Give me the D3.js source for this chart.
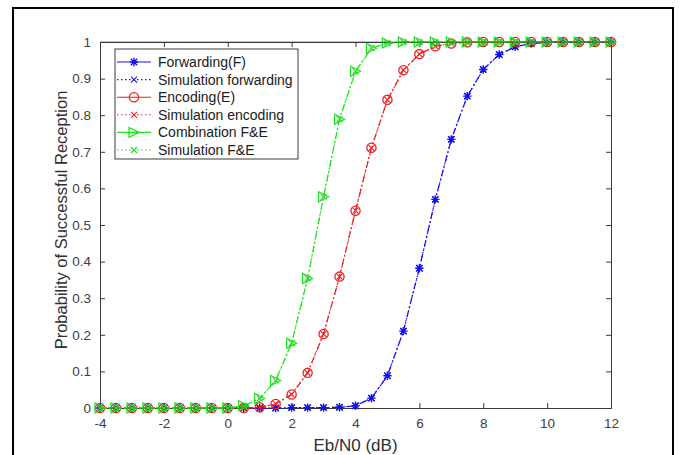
<!DOCTYPE html>
<html>
<head>
<meta charset="utf-8">
<script src="https://cdn.jsdelivr.net/npm/d3@7"></script>
<style>
  html, body { margin: 0; padding: 0; background: #fff; }
  svg { display: block; }
  text { font-family: "Liberation Sans", Arial, Helvetica, sans-serif; }
</style>
</head>
<body>
<svg id="chart" width="680" height="455"></svg>
<script>
// ---- data ----
const ebn0 = [-4,-3.5,-3,-2.5,-2,-1.5,-1,-0.5,0,0.5,1,1.5,2,2.5,3,3.5,4,4.5,5,5.5,6,6.5,7,7.5,8,8.5,9,9.5,10,10.5,11,11.5,12];
const forwarding     = [0,0,0,0,0,0,0,0,0,0,0,0,0.001,0.001,0.001,0.002,0.006,0.027,0.088,0.21,0.382,0.57,0.734,0.852,0.925,0.966,0.987,0.996,0.999,1,1,1,1];
const simForwarding  = [0,0,0,0,0,0,0,0,0,0,0,0,0.001,0.001,0.001,0.002,0.006,0.027,0.088,0.21,0.382,0.57,0.734,0.852,0.925,0.966,0.987,0.996,0.999,1,1,1,1];
const encoding       = [0,0,0,0,0,0,0,0,0,0,0.002,0.011,0.037,0.096,0.202,0.359,0.539,0.711,0.842,0.923,0.967,0.988,0.996,0.999,1,1,1,1,1,1,1,1,1];
const simEncoding    = [0,0,0,0,0,0,0,0,0,0,0.002,0.011,0.037,0.096,0.202,0.359,0.539,0.711,0.842,0.923,0.967,0.988,0.996,0.999,1,1,1,1,1,1,1,1,1];
const combination    = [0,0,0,0,0,0,0,0,0,0.006,0.026,0.075,0.177,0.354,0.577,0.789,0.92,0.983,0.997,1,1,1,1,1,1,1,1,1,1,1,1,1,1];
const simCombination = [0,0,0,0,0,0,0,0,0,0.006,0.026,0.075,0.177,0.354,0.577,0.789,0.92,0.983,0.997,1,1,1,1,1,1,1,1,1,1,1,1,1,1];
const xTicks = [-4,-2,0,2,4,6,8,10,12];
const yTicks = [0,0.1,0.2,0.3,0.4,0.5,0.6,0.7,0.8,0.9,1];
const legendLabels = ["Forwarding(F)","Simulation forwarding","Encoding(E)","Simulation encoding","Combination F&E","Simulation F&E"];
const xLabel = "Eb/N0 (dB)";
const yLabel = "Probability of Successful Reception";

// ---- layout ----
const svg = d3.select("#chart");
const L = 100, R = 611, T = 42, B = 408;
const x = d3.scaleLinear().domain([-4, 12]).range([L, R]);
const y = d3.scaleLinear().domain([0, 1]).range([B, T]);
const axisColor = "#3a3a3a";
const BLUE = "#1010f0", RED = "#ee1c1c", GREEN = "#1ee01e";

svg.append("rect").attr("width", 680).attr("height", 455).attr("fill", "#fff");
// outer frame
svg.append("rect").attr("x", 13).attr("y", 8).attr("width", 660).attr("height", 470)
  .attr("fill", "none").attr("stroke", "#000").attr("stroke-width", 2);

// axes (ticks inward on all four sides)
const tickLen = 5;
const gx = svg.append("g").attr("transform", `translate(0,${B})`)
  .call(d3.axisBottom(x).tickValues(xTicks).tickSize(-tickLen).tickPadding(10).tickFormat(d => String(d)));
const gxTop = svg.append("g").attr("transform", `translate(0,${T})`)
  .call(d3.axisTop(x).tickValues(xTicks).tickSize(-tickLen).tickFormat(""));
const gy = svg.append("g").attr("transform", `translate(${L},0)`)
  .call(d3.axisLeft(y).tickValues(yTicks).tickSize(-tickLen).tickPadding(9).tickFormat(d => d === 0 ? "0" : d === 1 ? "1" : d3.format(".1f")(d)));
const gyR = svg.append("g").attr("transform", `translate(${R},0)`)
  .call(d3.axisRight(y).tickValues(yTicks).tickSize(-tickLen).tickFormat(""));
[gx, gxTop, gy, gyR].forEach(g => {
  g.select(".domain").attr("stroke", axisColor).attr("stroke-width", 1);
  g.selectAll(".tick line").attr("stroke", axisColor);
  g.selectAll(".tick text").attr("fill", "#404040").style("font-size", "13.5px")
    .style("font-family", '"Liberation Sans", Arial, sans-serif');
});

// axis labels
svg.append("text").attr("x", (L + R) / 2).attr("y", 451).attr("text-anchor", "middle")
  .attr("fill", "#303030").style("font-size", "17px").text(xLabel);
svg.append("text").attr("transform", `translate(67,${(T + B) / 2 - 5}) rotate(-90)`)
  .attr("text-anchor", "middle").attr("fill", "#303030").style("font-size", "16.5px").text(yLabel);

// markers
function drawMarker(g, type, cx, cy, color) {
  if (type === "star") {
    const s = 4.2, d = 3.2;
    g.append("path").attr("d",
      `M${cx - s},${cy}L${cx + s},${cy}M${cx},${cy - s}L${cx},${cy + s}` +
      `M${cx - d},${cy - d}L${cx + d},${cy + d}M${cx - d},${cy + d}L${cx + d},${cy - d}`)
      .attr("stroke", color).attr("stroke-width", 1.4).attr("fill", "none");
  } else if (type === "circle") {
    g.append("circle").attr("cx", cx).attr("cy", cy).attr("r", 4.6)
      .attr("stroke", color).attr("stroke-width", 1.3).attr("fill", "none");
  } else if (type === "tri") {
    const h = 5;
    g.append("path").attr("d", `M${cx + h},${cy}L${cx - h},${cy - h}L${cx - h},${cy + h}Z`)
      .attr("stroke", color).attr("stroke-width", 1.2).attr("fill", "none");
  } else if (type === "x") {
    const d = 3;
    g.append("path").attr("d", `M${cx - d},${cy - d}L${cx + d},${cy + d}M${cx - d},${cy + d}L${cx + d},${cy - d}`)
      .attr("stroke", color).attr("stroke-width", 1.1).attr("fill", "none");
  }
}

const series = [
  { vals: forwarding, color: BLUE, marker: "star", dash: "7,3,1.5,3", legendDash: null },
  { vals: simForwarding, color: BLUE, marker: "x", dash: "1.5,2.5", legendDash: "1.5,2.5" },
  { vals: encoding, color: RED, marker: "circle", dash: "7,3,1.5,3", legendDash: null },
  { vals: simEncoding, color: RED, marker: "x", dash: "1.5,2.5", legendDash: "1.5,2.5" },
  { vals: combination, color: GREEN, marker: "tri", dash: "7,3,1.5,3", legendDash: null },
  { vals: simCombination, color: GREEN, marker: "x", dash: "1.5,2.5", legendDash: "1.5,2.5" }
];

const line = d3.line().x(d => x(d[0])).y(d => y(d[1]));
const plot = svg.append("g");
series.forEach(s => {
  const pts = ebn0.map((e, i) => [e, s.vals[i]]);
  plot.append("path").attr("d", line(pts)).attr("fill", "none")
    .attr("stroke", s.color).attr("stroke-width", 1.2).attr("stroke-dasharray", s.dash);
  const mg = plot.append("g");
  pts.forEach(p => drawMarker(mg, s.marker, x(p[0]), y(p[1]), s.color));
});

// box top edge on top of the curves
svg.append("line").attr("x1", L).attr("x2", R).attr("y1", T).attr("y2", T).attr("stroke", axisColor).attr("stroke-opacity", 0.6);

// legend
const lg = svg.append("g");
const LX = 115, LY = 49, LW = 183, LH = 110;
lg.append("rect").attr("x", LX).attr("y", LY).attr("width", LW).attr("height", LH)
  .attr("fill", "#fff").attr("stroke", axisColor).attr("stroke-width", 1);
series.forEach((s, i) => {
  const ry = 62 + i * 17.6;
  lg.append("line").attr("x1", 117).attr("x2", 151).attr("y1", ry).attr("y2", ry)
    .attr("stroke", s.color).attr("stroke-width", 1.1)
    .attr("stroke-dasharray", s.legendDash);
  drawMarker(lg, s.marker, 134, ry, s.color);
  lg.append("text").attr("x", 158).attr("y", ry + 5).attr("fill", "#202020")
    .style("font-size", "14px").text(legendLabels[i]);
});
</script>
</body>
</html>
